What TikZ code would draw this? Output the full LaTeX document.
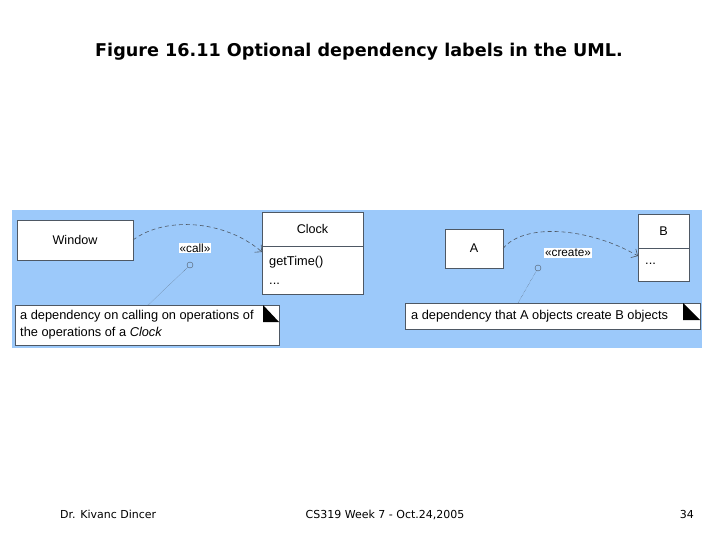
\documentclass[tikz,border=0pt]{standalone}
\usepackage{fontspec}
\setmainfont{Liberation Sans}
\newfontfamily\titlefont{DejaVu Sans}
\usetikzlibrary{arrows.meta}
\definecolor{panelblue}{HTML}{9CC9FA}
\definecolor{linegray}{HTML}{4E5864}

\begin{document}
\begin{tikzpicture}[x=1pt, y=-1pt,
    umlbox/.style={draw=linegray, fill=white, inner sep=0pt, outer sep=0pt, font=\fontsize{12.6}{15}\selectfont},
    notebox/.style={draw=linegray, fill=white, inner sep=0pt, outer sep=0pt},
    stereo/.style={fill=white, inner sep=1pt, font=\fontsize{11.8}{14}\selectfont},
    pin/.style={circle, draw=linegray, minimum size=6pt, inner sep=0pt},
    dep/.style={dash pattern=on 4pt off 3pt, linegray, line width=0.6pt, -{Straight Barb[length=5pt, width=10pt]}},
    anchorline/.style={densely dotted, linegray, thin},
    foot/.style={font=\titlefont\fontsize{11}{13}\selectfont, inner sep=0pt}]
    \useasboundingbox (0,0) rectangle (720,540);

    % --- titre ---
    \node[font=\titlefont\bfseries\fontsize{17.6}{20}\selectfont] (title) at (359,52) {Figure 16.11 Optional dependency labels in the UML.};

    % --- fond bleu ---
    \fill[panelblue] (12,210) rectangle (702,348);

    % --- gauche : Window -> Clock ---
    \node[umlbox, minimum width=116pt, minimum height=40pt] (window) at (75,240) {Window};
    \node[umlbox, minimum width=101pt, minimum height=34pt] (clockname) at (312.5,229) {Clock};
    \node[umlbox, minimum width=101pt, minimum height=48pt] (clockops) at (312.5,270) {};
    \node[font=\fontsize{12.8}{19}\selectfont, align=left, anchor=west, inner sep=0pt] (clockopstext) at (269,270) {getTime()\\...};
    \draw[dep] (window.east) .. controls (165,216) and (225,220) .. ([yshift=-6pt]clockops.north west);
    \node[stereo] (call) at (195,248) {«call»};
    \node[pin] (callpin) at (190,265) {};
    \node[notebox, minimum width=264pt, minimum height=40pt] (callnote) at (147,325) {};
    \node[font=\fontsize{12.8}{17}\selectfont, align=left, anchor=west, inner sep=0pt] (callnotetext) at (20,325)
        {a dependency on calling on operations of\\the operations of a \textit{Clock}};
    \fill[black] (263,305) -- (263,322) -- (279,322) -- cycle;
    \coordinate (calltip) at (148,305);
    \draw[anchorline] (callpin) -- (calltip);

    % --- droite : A -> B ---
    \node[umlbox, minimum width=58pt, minimum height=39pt] (a) at (474,248.5) {A};
    \node[umlbox, minimum width=51pt, minimum height=34pt] (bname) at (663.5,231) {B};
    \node[umlbox, minimum width=51pt, minimum height=33pt] (bops) at (663.5,264.5) {};
    \node[font=\fontsize{12.8}{15}\selectfont, anchor=west, inner sep=0pt] (bopstext) at (645,264) {...};
    \draw[dep] (a.east) .. controls (525,222) and (590,228) .. ([yshift=-8pt]bops.north west);
    \node[stereo] (create) at (568,253) {«create»};
    \node[pin] (createpin) at (538,268) {};
    \node[notebox, minimum width=295pt, minimum height=26pt] (createnote) at (552.5,316) {};
    \node[font=\fontsize{12.8}{15}\selectfont, anchor=west, inner sep=0pt] (createnotetext) at (411,316)
        {a dependency that A objects create B objects};
    \fill[black] (683,303) -- (683,320) -- (700,320) -- cycle;
    \coordinate (createtip) at (518,303);
    \draw[anchorline] (createpin) -- (createtip);

    % --- pied de page ---
    \node[foot, anchor=base west] (author) at (60,518) {Dr. Kivanc Dincer};
    \node[foot, anchor=base] (course) at (385,518) {CS319 Week 7 - Oct.24,2005};
    \node[foot, anchor=base east] (page) at (694,518) {34};
\end{tikzpicture}
\end{document}
